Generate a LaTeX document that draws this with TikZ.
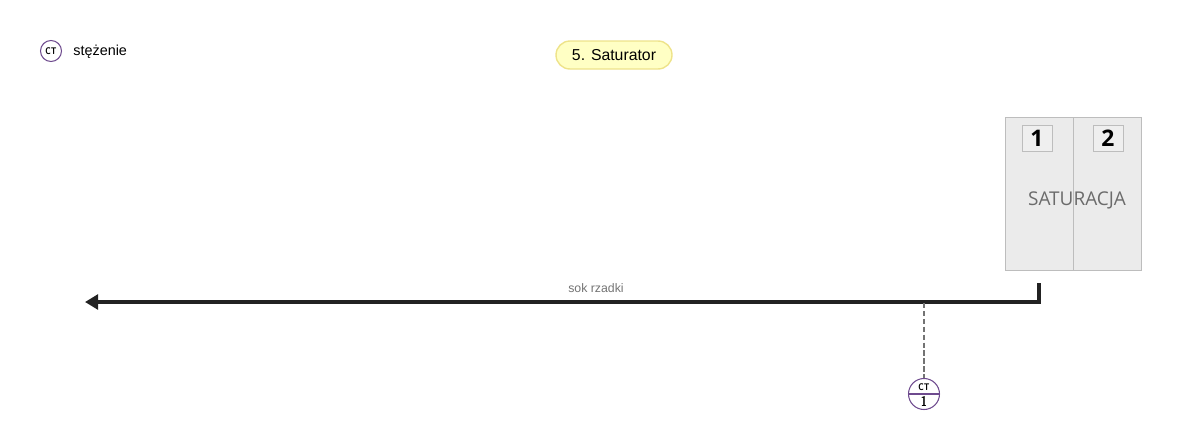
\documentclass[tikz,border=0pt]{standalone}
\usepackage{fontspec}
\setmainfont{Liberation Sans}
\newfontfamily\boxfont{Open Sans}
\usetikzlibrary{arrows.meta}
\definecolor{ctpurple}{HTML}{6E4A8E}
\definecolor{titlefill}{HTML}{FFFFC4}
\definecolor{titleline}{HTML}{EEE38A}
\definecolor{panelfill}{HTML}{EBEBEB}
\definecolor{panelline}{HTML}{BDBDBD}
\definecolor{pipe}{HTML}{222222}
\tikzset{
	panel/.style={draw=panelline, fill=panelfill, line width=0.5pt, minimum width=68*0.02cm, minimum height=153*0.02cm, inner sep=0pt},
	numbox/.style={draw=panelline, fill=panelfill!80!white, line width=0.5pt, minimum width=30*0.02cm, minimum height=26*0.02cm, inner sep=0pt, font=\boxfont\fontsize{13}{13}\selectfont\bfseries},
	ctmark/.style={circle, draw=ctpurple, line width=0.6pt, fill=white, inner sep=0pt},
	ctlabel/.style={font=\sffamily\bfseries\fontsize{5.5}{5.5}\selectfont, inner sep=0pt, xscale=0.8}
}
\begin{document}
\begin{tikzpicture}[x=0.02cm, y=-0.02cm]
			%%%%% START %%%%%
			\useasboundingbox (0, 0) rectangle (1200, 440);
			
			% legend
			\node[ctmark, minimum size=21*0.02cm] (legct) at (51, 51) {};
			\node[ctlabel] at (legct) {CT};
			\node[anchor=west, font=\fontsize{8.2}{9}\selectfont, inner sep=0pt] (legtext) at (73, 52) {stężenie};
			
			% title
			\node[draw=titleline, fill=titlefill, line width=0.8pt, rounded corners=14*0.02cm, minimum width=116*0.02cm, minimum height=28*0.02cm, font=\fontsize{9}{10}\selectfont] (title) at (614, 55) {5. Saturator};
			
			% saturator
			\node[panel] (sat1) at (1039, 193.5) {};
			\node[panel] (sat2) at (1107, 193.5) {};
			\node[numbox] (num1) at (1037, 138) {1};
			\node[numbox] (num2) at (1108, 138) {2};
			\node[font=\boxfont\fontsize{10.8}{11}\selectfont, text=black!58] (satlabel) at (1077, 200) {SATURACJA};
			
			% pipe
			\coordinate (pipestart) at (1039, 283);
			\coordinate (pipebend) at (1039, 302);
			\coordinate (pipeend) at (85, 302);
			\draw[pipe, line width=2.3pt, -{Triangle[length=7.5pt, width=8.5pt]}] (pipestart) -- (pipebend) -- (pipeend);
			\node[text=black!55, font=\fontsize{7}{8}\selectfont] (pipelabel) at (596, 288) {sok rzadki};
			
			% instrument
			\coordinate (tap) at (924, 303);
			\node[ctmark, minimum size=31*0.02cm] (ct1) at (924, 394) {};
			\draw[black!55, line width=0.7pt, dashed, dash pattern=on 3pt off 1.5pt] (tap) -- (ct1.north);
			\draw[ctpurple, line width=0.6pt] (ct1.west) -- (ct1.east);
			\node[ctlabel] at ([yshift=3.8pt]ct1.center) {CT};
			\node[font=\sffamily\bfseries\fontsize{8}{8}\selectfont, inner sep=0pt, xscale=0.8] at ([yshift=-4pt]ct1.center) {1};
			
			%%%%% END %%%%%
\end{tikzpicture}
\end{document}
